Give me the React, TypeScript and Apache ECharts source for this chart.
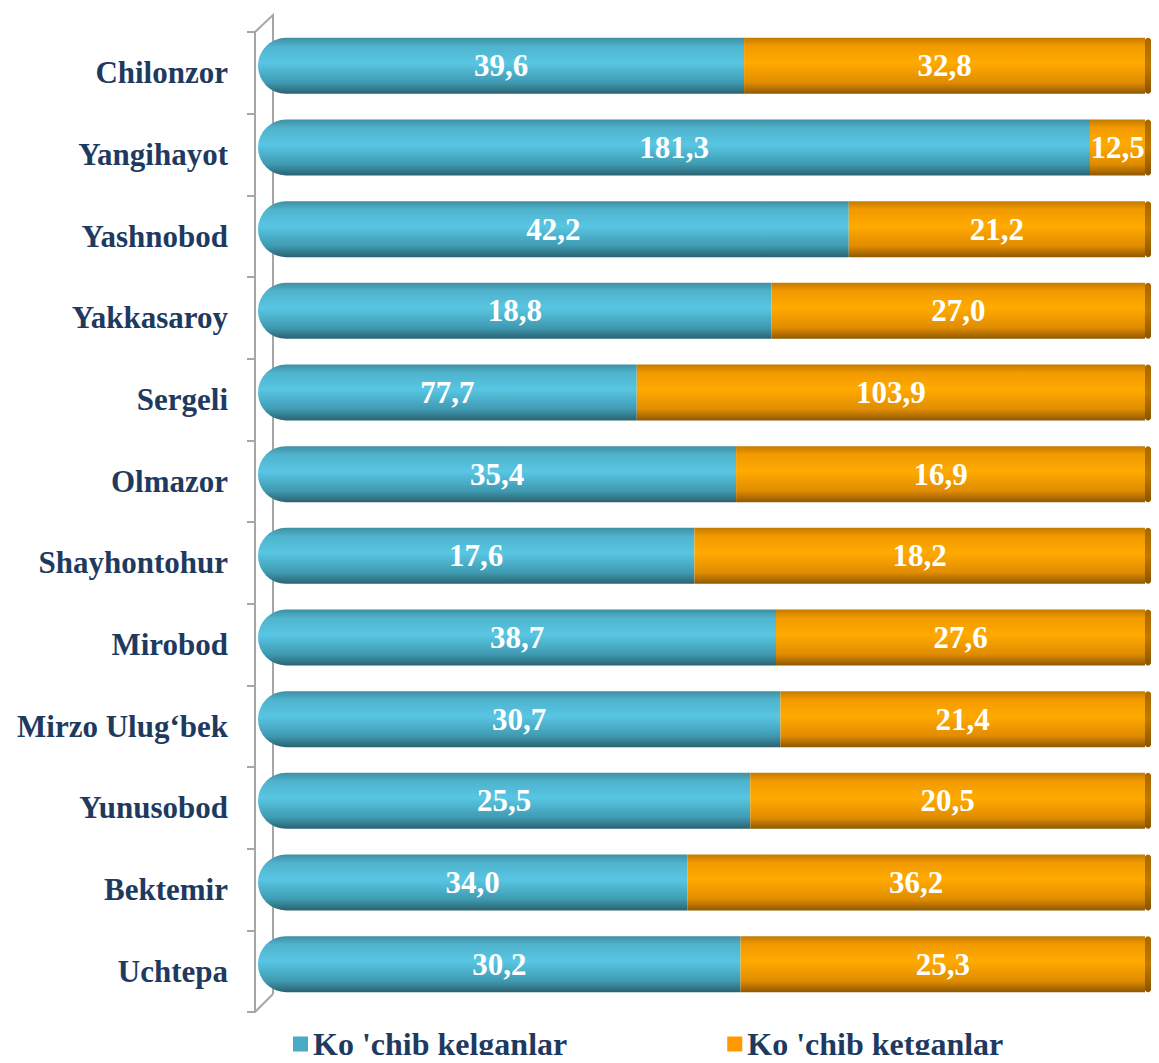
import React, { useEffect, useRef } from "react";
import * as echarts from "echarts";

const categories = [
  "Chilonzor", "Yangihayot", "Yashnobod", "Yakkasaroy", "Sergeli", "Olmazor",
  "Shayhontohur", "Mirobod", "Mirzo Ulug‘bek", "Yunusobod", "Bektemir", "Uchtepa",
];
// Values printed on the bars
const kelganlar = [39.6, 181.3, 42.2, 18.8, 77.7, 35.4, 17.6, 38.7, 30.7, 25.5, 34.0, 30.2];
const ketganlar = [32.8, 12.5, 21.2, 27.0, 103.9, 16.9, 18.2, 27.6, 21.4, 20.5, 36.2, 25.3];
// Share (%) of the bar length taken by "kelganlar", as drawn in the picture
const kelganShare = [54.8, 93.8, 66.6, 57.9, 42.7, 53.9, 49.2, 58.4, 58.9, 55.5, 48.4, 54.4];
const seriesNames = ["Ko 'chib kelganlar", "Ko 'chib ketganlar"];

const fmt = (v: number) => v.toFixed(1).replace(".", ",");

export default function App() {
  const ref = useRef<HTMLDivElement>(null);
  useEffect(() => {
    if (!ref.current) return;
    const chart = echarts.init(ref.current, null, { renderer: "svg" });
    const cyan = new echarts.graphic.LinearGradient(0, 0, 0, 1, [
      { offset: 0, color: "#3f8fa2" },
      { offset: 0.15, color: "#4fb3cd" },
      { offset: 0.45, color: "#58c6e3" },
      { offset: 0.8, color: "#3f9ab1" },
      { offset: 1, color: "#2a6270" },
    ]);
    const orange = new echarts.graphic.LinearGradient(0, 0, 0, 1, [
      { offset: 0, color: "#c47a00" },
      { offset: 0.15, color: "#f29a00" },
      { offset: 0.45, color: "#ffaa00" },
      { offset: 0.8, color: "#e08c00" },
      { offset: 1, color: "#8f5800" },
    ]);
    const labelStyle = {
      show: true,
      position: "inside" as const,
      color: "#ffffff",
      fontFamily: "Liberation Serif",
      fontWeight: "bold" as const,
      fontSize: 31,
    };
    chart.setOption({
      animation: false,
      grid: [
        { left: 258, right: 14, top: 25, bottom: 58 },
        { left: 255, right: 12, top: 32, bottom: 51 },
      ],
      legend: {
        bottom: -2,
        left: 288,
        itemGap: 160,
        itemWidth: 15,
        itemHeight: 15,
        icon: "rect",
        textStyle: {
          fontFamily: "Liberation Serif",
          fontWeight: "bold",
          fontSize: 32,
          color: "#1f3a5f",
        },
        data: [
          { name: seriesNames[0], itemStyle: { color: "#4aaac4" } },
          { name: seriesNames[1], itemStyle: { color: "#ff9900" } },
        ],
      },
      xAxis: [
        { type: "value", min: 0, max: 100, show: false, gridIndex: 0 },
        { type: "value", min: 0, max: 100, show: false, gridIndex: 1 },
      ],
      yAxis: [
        {
          type: "category",
          gridIndex: 0,
          inverse: true,
          data: categories,
          show: false,
        },
        {
          type: "category",
          gridIndex: 1,
          inverse: true,
          data: categories,
          axisLine: { show: true, lineStyle: { color: "#a6a6a6", width: 2 } },
          axisTick: { show: true, length: 8, lineStyle: { color: "#a6a6a6", width: 2 } },
          axisLabel: {
            margin: 27,
            fontFamily: "Liberation Serif",
            fontWeight: "bold",
            fontSize: 31,
            color: "#1f3a5f",
          },
        },
      ],
      graphic: [
        {
          type: "polyline",
          shape: { points: [[255, 32], [273, 15], [273, 994]] },
          style: { stroke: "#a6a6a6", lineWidth: 2, fill: "none" },
          silent: true,
          z: -1,
        },
        {
          type: "line",
          shape: { x1: 255, y1: 1012, x2: 273, y2: 994 },
          style: { stroke: "#a6a6a6", lineWidth: 2 },
          silent: true,
          z: -1,
        },
      ],
      series: [
        {
          name: seriesNames[0],
          type: "bar",
          stack: "total",
          xAxisIndex: 0,
          yAxisIndex: 0,
          barWidth: 56,
          z: 3,
          data: kelganShare,
          itemStyle: { color: cyan, borderRadius: [28, 0, 0, 28] },
          label: { ...labelStyle, formatter: (p: any) => fmt(kelganlar[p.dataIndex]) },
        },
        {
          name: seriesNames[1],
          type: "bar",
          stack: "total",
          xAxisIndex: 0,
          yAxisIndex: 0,
          barWidth: 56,
          z: 3,
          data: kelganShare.map((s) => 100 - s),
          itemStyle: { color: orange },
          label: { ...labelStyle, formatter: (p: any) => fmt(ketganlar[p.dataIndex]) },
        },
        {
          type: "custom",
          xAxisIndex: 0,
          yAxisIndex: 0,
          z: 2,
          clip: false,
          silent: true,
          data: categories.map((_, i) => [100, i]),
          renderItem: (params: any, api: any) => {
            const pt = api.coord([api.value(0), api.value(1)]);
            return {
              type: "ellipse",
              shape: { cx: pt[0] + 3, cy: pt[1], rx: 8, ry: 28 },
              style: {
                fill: new echarts.graphic.LinearGradient(0, 0, 0, 1, [
                  { offset: 0, color: "#a86800" },
                  { offset: 0.5, color: "#c07800" },
                  { offset: 1, color: "#8a5400" },
                ]),
              },
            };
          },
        },
      ],
    });
    return () => chart.dispose();
  }, []);
  return <div ref={ref} style={{ width: 1159, height: 1063, margin: -8 }} />;
}
